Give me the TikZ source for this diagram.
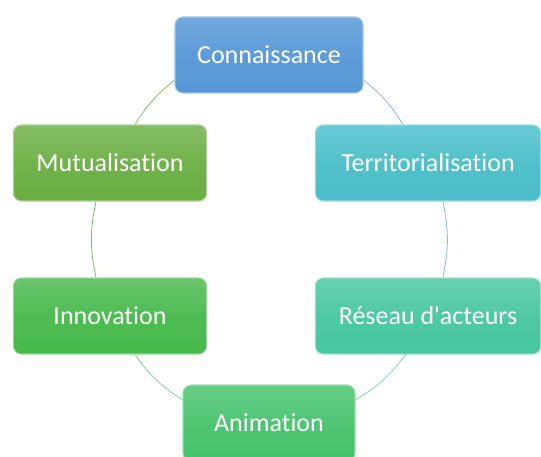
\documentclass[tikz,border=0pt]{standalone}
\usepackage{fontspec}
\newfontfamily\boxfont[Ligatures={TeXOff,CommonOff}]{Carlito}
\usetikzlibrary{shadings}

\definecolor{conblue}{HTML}{5597D6}
\definecolor{mutgreen}{HTML}{6AAE42}
\definecolor{terteal}{HTML}{48BEC8}
\definecolor{resteal}{HTML}{46C6A0}
\definecolor{inngreen}{HTML}{46B94A}
\definecolor{anigreen}{HTML}{46C26C}

\begin{document}
\begin{tikzpicture}[
    x=0.75pt, y=-0.75pt,
    box/.style={rectangle, rounded corners=6pt, minimum height=57pt, inner sep=2pt,
                text=white, font=\boxfont\fontsize{19.5pt}{22pt}\selectfont, line width=0.8pt},
    link/.style={draw, line width=0.6pt}
]
    \useasboundingbox (0,0) rectangle (541,456);

    % Stages of the cycle
    \foreach \name/\x/\y/\w/\col/\txt in {
        con/269/55/141/conblue/Connaissance,
        ter/428/163/169/terteal/Territorialisation,
        res/428/316/169/resteal/R\'eseau d\textquotesingle acteurs,
        ani/269/423/129/anigreen/Animation,
        inn/110/316/145/inngreen/Innovation,
        mut/110/163/145/mutgreen/Mutualisation} {
        \node[box, minimum width=\w pt, top color=\col!82!white, bottom color=\col,
              middle color=\col!95!white, draw=\col!55!white] (\name) at (\x,\y) {\txt};
    }

    % Links round the circle
    \foreach \a/\b/\bend/\col in {con.345/ter.123/10/conblue!70, ter.291/res.69/12/terteal!80,
        res.240/ani.15/11/resteal!70, ani.165/inn.303/11/anigreen!70,
        inn.110/mut.250/12/inngreen!80, mut.57/con.195/10/mutgreen!80} {
        \draw[link, \col] (\a) to[bend left=\bend] (\b);
    }

\end{tikzpicture}
\end{document}
